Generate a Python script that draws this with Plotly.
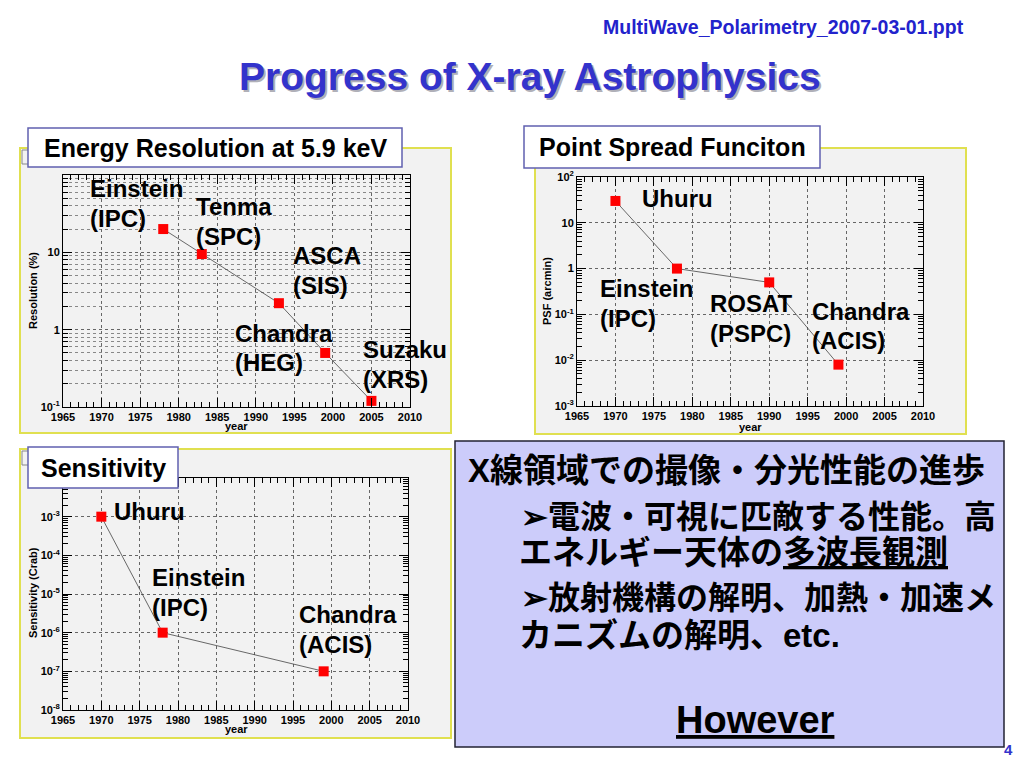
import plotly.graph_objects as go

# page body has an 8px margin; figure is sized to fit inside the 1024x768 window
OFF = 8
W, H = 1024 - 2 * OFF, 768 - 2 * OFF

# ---------------- data ----------------
res_years = [1978, 1983, 1993, 1999, 2005]
res_values = [20, 9.5, 2.2, 0.5, 0.12]
res_labels = [["Einstein", "(IPC)"], ["Tenma", "(SPC)"], ["ASCA", "(SIS)"],
              ["Chandra", "(HEG)"], ["Suzaku", "(XRS)"]]

psf_years = [1970, 1978, 1990, 1999]
psf_values = [30, 1.0, 0.5, 0.008]
psf_labels = [["Uhuru"], ["Einstein", "(IPC)"], ["ROSAT", "(PSPC)"], ["Chandra", "(ACIS)"]]

sens_years = [1970, 1978, 1999]
sens_values = [1e-3, 1e-6, 1e-7]
sens_labels = [["Uhuru"], ["Einstein", "(IPC)"], ["Chandra", "(ACIS)"]]

res_ticktext = ["10<sup>-1</sup>", "1", "10", ""]
psf_ticktext = ["10<sup>-3</sup>", "10<sup>-2</sup>", "10<sup>-1</sup>", "1", "10", "10<sup>2</sup>"]
sens_ticktext = ["10<sup>-8</sup>", "10<sup>-7</sup>", "10<sup>-6</sup>", "10<sup>-5</sup>",
                 "10<sup>-4</sup>", "10<sup>-3</sup>", ""]

slide_title = "Progress of X-ray Astrophysics"
file_name = "MultiWave_Polarimetry_2007-03-01.ppt"
jp_lines = [
    "X線領域での撮像・分光性能の進歩",
    "➢電波・可視に匹敵する性能。高",
    "エネルギー天体の<u>多波長観測</u>",
    "➢放射機構の解明、加熱・加速メ",
    "カニズムの解明、etc.",
]

# ---------------- helpers ----------------
def px(x):
    return (x - OFF) / W


def py(y):
    return 1 - (y - OFF) / H


LAT = "Liberation Sans, Arial, sans-serif"
JP = "Liberation Sans, Noto Sans CJK JP, sans-serif"
BLUE = "#3333cc"


def decade_vals(lo, hi):
    return [10.0 ** e for e in range(lo, hi + 1)]


def minor_vals(lo, hi):
    return [m * 10.0 ** e for e in range(lo, hi) for m in range(2, 10)]


tickfont = dict(family=LAT, size=11, color="black", weight="bold")


def xcfg(x0, x1, anchor):
    return dict(domain=[px(x0), px(x1)], range=[1965, 2010], tick0=1965, dtick=5,
                anchor=anchor, ticks="inside", ticklen=9, tickwidth=1, tickcolor="black",
                showline=True, linecolor="black", linewidth=1, mirror="allticks",
                showgrid=True, gridcolor="#666666", griddash="dot", gridwidth=1,
                zeroline=False, tickfont=tickfont, automargin=False,
                minor=dict(dtick=1, tick0=1965, ticks="inside", ticklen=5,
                           tickcolor="black", showgrid=False))


def ycfg(y_top, y_bot, anchor, lo, hi, ticktext, minor_grid):
    return dict(domain=[py(y_bot), py(y_top)], type="log", range=[lo, hi],
                anchor=anchor, tickmode="array", tickvals=decade_vals(lo, hi),
                ticktext=ticktext, ticks="inside", ticklen=9, tickwidth=1,
                tickcolor="black", showline=True, linecolor="black", linewidth=1,
                mirror="allticks", showgrid=True, gridcolor="#666666", griddash="dot",
                gridwidth=1, zeroline=False, tickfont=tickfont, automargin=False,
                minor=dict(tickmode="array", tickvals=minor_vals(lo, hi), ticks="inside",
                           ticklen=5, tickcolor="black", showgrid=minor_grid,
                           gridcolor="#888888", griddash="dot", gridwidth=1))


fig = go.Figure()

marker = dict(symbol="square", size=10, color="#ff0000", line=dict(width=0))
line = dict(color="#444444", width=0.8)

fig.add_trace(go.Scatter(x=res_years, y=res_values, mode="lines+markers", marker=marker,
                         line=line, xaxis="x", yaxis="y", showlegend=False))
fig.add_trace(go.Scatter(x=psf_years, y=psf_values, mode="lines+markers", marker=marker,
                         line=line, xaxis="x2", yaxis="y2", showlegend=False))
fig.add_trace(go.Scatter(x=sens_years, y=sens_values, mode="lines+markers", marker=marker,
                         line=line, xaxis="x3", yaxis="y3", showlegend=False))

shapes = []
annotations = []

# panel backgrounds (ROOT canvases)
for (x0, y0, x1, y1) in [(20, 148, 451, 433), (535, 148, 966, 434), (20, 449, 451, 738)]:
    shapes.append(dict(type="rect", xref="paper", yref="paper", x0=px(x0), x1=px(x1),
                       y0=py(y1), y1=py(y0), fillcolor="#f2f2f2",
                       line=dict(color="#e0e050", width=2), layer="below"))

# little canvas-corner marks
for (x0, y0) in [(22, 150), (22, 451)]:
    shapes.append(dict(type="path", xref="paper", yref="paper",
                       path=f"M {px(x0+6)} {py(y0)} L {px(x0)} {py(y0)} L {px(x0)} {py(y0+14)} L {px(x0+6)} {py(y0+14)}",
                       line=dict(color="#888888", width=1), layer="below"))

# title boxes
for (x0, y0, x1, y1, txt) in [(28, 128, 402, 167, "Energy Resolution at 5.9 keV"),
                              (524, 126, 820, 168, "Point Spread Funciton"),
                              (28, 447, 178, 488, "Sensitivity")]:
    shapes.append(dict(type="rect", xref="paper", yref="paper", x0=px(x0), x1=px(x1),
                       y0=py(y1), y1=py(y0), fillcolor="white",
                       line=dict(color="#6060b0", width=1.5), layer="above"))
    annotations.append(dict(xref="paper", yref="paper", x=px((x0 + x1) / 2),
                            y=py((y0 + y1) / 2), text=txt, showarrow=False,
                            xanchor="center", yanchor="middle",
                            font=dict(family=LAT, size=25, color="black", weight="bold")))

# text box
shapes.append(dict(type="rect", xref="paper", yref="paper", x0=px(455), x1=px(1004),
                   y0=py(747), y1=py(441), fillcolor="#ccccfa",
                   line=dict(color="#222233", width=1.5), layer="above"))

# chart labels (left x, y of first line) per point
res_pos = [(88, 188), (194, 206), (291, 255), (233, 333), (361, 349)]
psf_pos = [(640, 199), (598, 288), (708, 303), (810, 311)]
sens_pos = [(112, 511), (150, 577), (297, 614)]
LINE_STEP = 30
for labels, pos in [(res_labels, res_pos), (psf_labels, psf_pos), (sens_labels, sens_pos)]:
    for lab, (lx, ly) in zip(labels, pos):
        for i, t in enumerate(lab):
            annotations.append(dict(xref="paper", yref="paper", x=px(lx), y=py(ly + i * LINE_STEP),
                                    text=t, showarrow=False, xanchor="left", yanchor="middle",
                                    font=dict(family=LAT, size=24, color="black", weight="bold")))

# axis titles
axis_font = dict(family=LAT, size=11, color="black", weight="bold")
for (x, y, t, ang) in [(236, 426, "year", 0), (750, 427, "year", 0), (236, 729, "year", 0),
                       (33, 291, "Resolution (%)", -90), (547, 291, "PSF (arcmin)", -90),
                       (33, 593, "Sensitivity (Crab)", -90)]:
    annotations.append(dict(xref="paper", yref="paper", x=px(x), y=py(y), text=t,
                            showarrow=False, textangle=ang, xanchor="center",
                            yanchor="middle", font=axis_font))

# slide header
annotations.append(dict(xref="paper", yref="paper", x=px(966), y=py(27), text=file_name,
                        showarrow=False, xanchor="right", yanchor="middle",
                        font=dict(family=LAT, size=19.5, color="#2222cc", weight="bold")))
annotations.append(dict(xref="paper", yref="paper", x=px(532), y=py(78), text=slide_title,
                        showarrow=False, xanchor="center", yanchor="middle",
                        font=dict(family=LAT, size=39, color="#b0b0b8", weight="bold")))
annotations.append(dict(xref="paper", yref="paper", x=px(530), y=py(76), text=slide_title,
                        showarrow=False, xanchor="center", yanchor="middle",
                        font=dict(family=LAT, size=39, color=BLUE, weight="bold")))
annotations.append(dict(xref="paper", yref="paper", x=px(1008), y=py(749), text="4",
                        showarrow=False, xanchor="center", yanchor="middle",
                        font=dict(family=LAT, size=15, color=BLUE, weight="bold")))

# Japanese text box
jp_pos = [(466, 470), (519, 517), (517, 552), (519, 598), (517, 635)]
jp_sizes = [33, 32, 33, 32, 33]
for t, (lx, ly), fs in zip(jp_lines, jp_pos, jp_sizes):
    annotations.append(dict(xref="paper", yref="paper", x=px(lx), y=py(ly), text=t,
                            showarrow=False, xanchor="left", yanchor="middle",
                            font=dict(family=JP, size=fs, color="black", weight="bold")))
annotations.append(dict(xref="paper", yref="paper", x=px(755), y=py(720), text="<u>However</u>",
                        showarrow=False, xanchor="center", yanchor="middle",
                        font=dict(family=LAT, size=38, color="black", weight="bold")))

fig.update_layout(
    width=W, height=H, margin=dict(l=0, r=0, t=0, b=0, autoexpand=False),
    paper_bgcolor="white", plot_bgcolor="white",
    xaxis=xcfg(63, 410, "y"),
    yaxis=ycfg(175, 407, "x", -1, 2, res_ticktext, True),
    xaxis2=xcfg(577, 923, "y2"),
    yaxis2=ycfg(177, 406, "x2", -3, 2, psf_ticktext, False),
    xaxis3=xcfg(63, 408, "y3"),
    yaxis3=ycfg(478, 710, "x3", -8, -2, sens_ticktext, False),
    shapes=shapes, annotations=annotations,
)

fig.write_html("out.html")
